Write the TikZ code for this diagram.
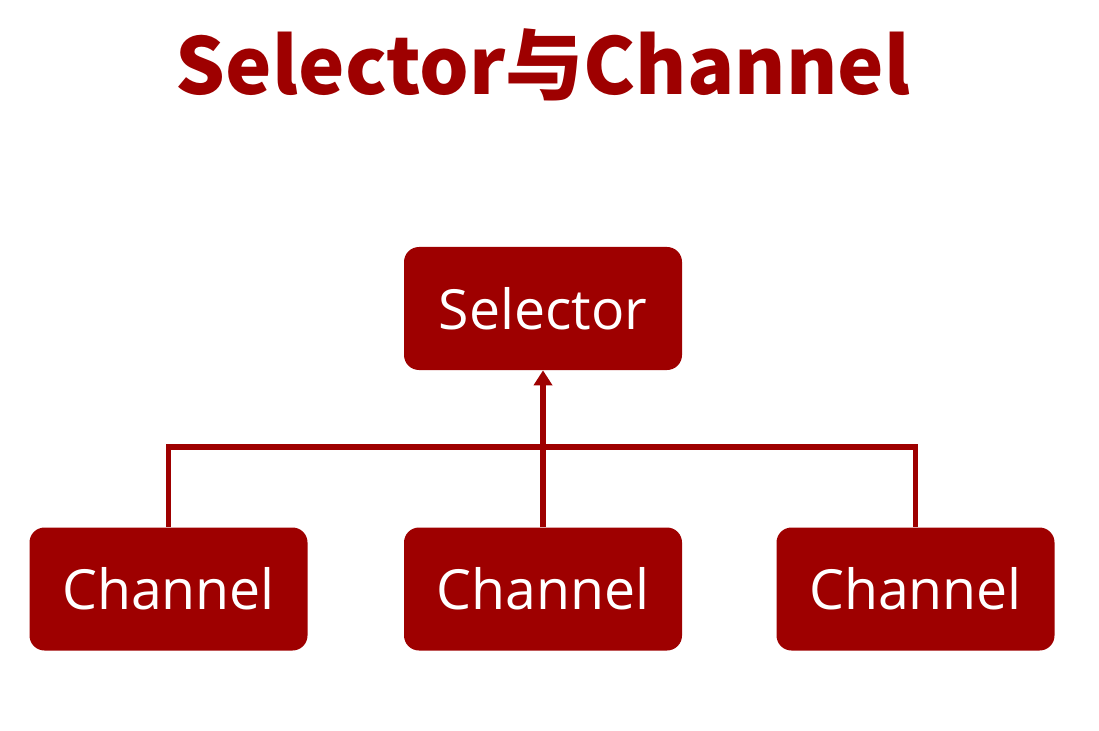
\documentclass[tikz,border=0pt]{standalone}
\usepackage{fontspec}
\setmainfont{Open Sans}
\newfontfamily\cjk{Noto Sans CJK SC}
\usetikzlibrary{arrows.meta,positioning}
\definecolor{darkred}{RGB}{158,0,0}

\begin{document}
\begin{tikzpicture}
		
		\tikzstyle{box}=[draw=none, fill=darkred, rounded corners=0.3cm, minimum width=5.56cm, minimum height=2.46cm, text=white, font=\fontsize{31.5}{33}\selectfont]
		\tikzstyle{wire}=[draw=darkred, line width=3.2pt]
		\useasboundingbox (0,0) rectangle (21.98,14.6);
		
		\node[text=darkred, font=\cjk\bfseries\fontsize{44.5}{48}\selectfont] (title) at (10.86,13.3) {Selector与Channel};
		
		\node[box] (sel) at (10.86,8.43) {Selector};
		
		\node[box] (chL) at (3.37,2.82) {Channel};
		\node[box] (chM) at (10.86,2.82) {Channel};
		\node[box] (chR) at (18.31,2.82) {Channel};
		
		\coordinate (bar) at (10.86,5.66);
		
		\draw[wire] (chL.north) |- (bar) -| (chR.north);
		\draw[wire, -{Triangle[length=0.3cm, width=0.36cm]}] (chM.north) -- (sel.south);
		
\end{tikzpicture}
\end{document}
